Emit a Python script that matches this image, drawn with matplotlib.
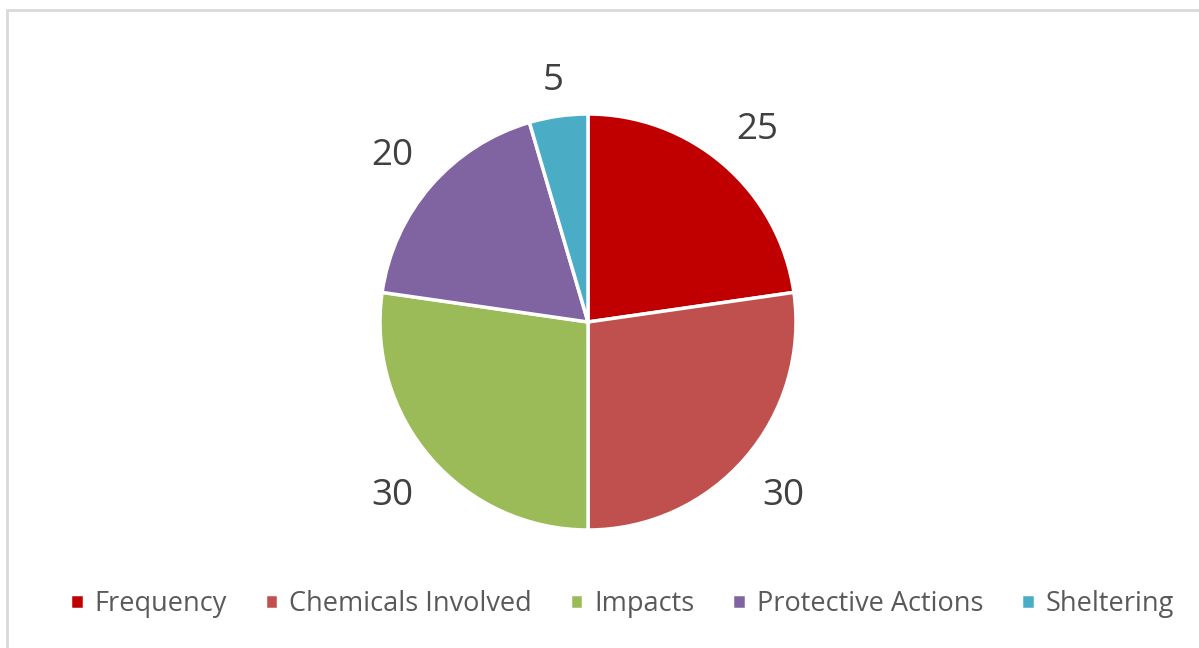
import numpy as np
import matplotlib.pyplot as plt
from matplotlib.patches import Rectangle

categories = ["Frequency", "Chemicals Involved", "Impacts", "Protective Actions", "Sheltering"]
values = [25, 30, 30, 20, 5]
colors = ["#C00000", "#C0504D", "#9BBB59", "#8064A2", "#4BACC6"]

plt.rcParams['font.family'] = ['Open Sans', 'DejaVu Sans']

fig = plt.figure(figsize=(11.99, 6.48), dpi=100)
ax = fig.add_axes([0, 0, 1, 1])

# light gray chart border
fig.patches.append(Rectangle((7, -5), 1200, 648 - 10 + 5, transform=None,
                             fill=False, edgecolor="#D9D9D9", linewidth=2))

cx, cy, r = 588, 326, 208
wedges, _ = ax.pie(values, colors=colors, startangle=90, counterclock=False,
                   center=(cx, cy), radius=r,
                   wedgeprops=dict(edgecolor="white", linewidth=2.5), frame=True)

# data labels outside the slices (small slice sits a bit closer)
label_dist = [1.245, 1.245, 1.245, 1.245, 1.19]
for w, v, d in zip(wedges, values, label_dist):
    ang = np.deg2rad((w.theta1 + w.theta2) / 2)
    ax.text(cx + d * r * np.cos(ang), cy + d * r * np.sin(ang) - 4, str(v),
            ha="center", va="center", fontsize=26.5, color="#404040")

ax.set_xlim(0, 1199)
ax.set_ylim(0, 648)
ax.set_aspect("equal")
ax.axis("off")

ax.legend(wedges, categories, loc="center", bbox_to_anchor=(622, 44),
          bbox_transform=ax.transData, ncol=5, frameon=False, fontsize=19.5,
          handlelength=0.5, handleheight=0.5, handletextpad=0.4,
          columnspacing=1.4, labelcolor="#595959")

fig.savefig("out.png", dpi=100)
